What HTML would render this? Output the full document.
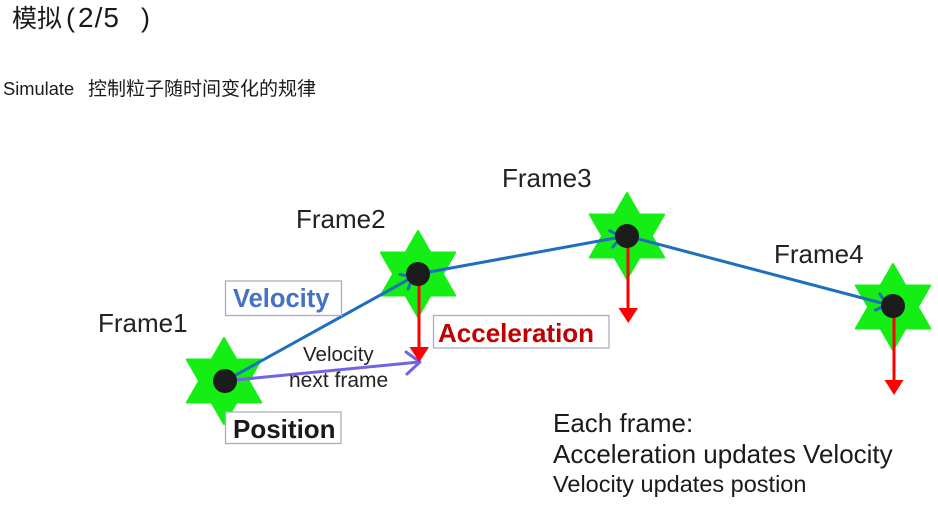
<!DOCTYPE html>
<html>
<head>
<meta charset="utf-8">
<style>
  html, body { margin: 0; padding: 0; background: #ffffff; }
  body { width: 938px; height: 511px; overflow: hidden; }
  svg { display: block; }
  .lat { font-family: "Liberation Sans", Arial, sans-serif; }
  .cjk { font-family: "Liberation Sans", "Noto Sans CJK SC", sans-serif; }
</style>
</head>
<body>
<svg width="938" height="511" viewBox="0 0 938 511" xmlns="http://www.w3.org/2000/svg">
  <rect x="0" y="0" width="938" height="511" fill="#ffffff"/>

  <!-- Title -->
  <text x="12" y="27" class="cjk" font-size="25" fill="#1a1a1a">模拟</text>
  <text x="66" y="27" class="lat" font-size="27" fill="#1a1a1a">(</text>
  <text x="78" y="27" class="lat" font-size="28" fill="#1a1a1a" letter-spacing="1">2/5</text>
  <text x="141" y="27" class="lat" font-size="27" fill="#1a1a1a">)</text>

  <!-- Subtitle -->
  <text x="3" y="95" class="lat" font-size="18.3" fill="#1a1a1a">Simulate</text>
  <text x="88" y="95" class="cjk" font-size="19" fill="#1a1a1a">控制粒子随时间变化的规律</text>

  <!-- Stars -->
  <g fill="#14ee14" stroke="#14ee14" stroke-width="2" stroke-linejoin="round">
    <polygon transform="translate(224,381)" points="0,-43 12.4,-21.5 37.2,-21.5 24.8,0 37.2,21.5 12.4,21.5 0,43 -12.4,21.5 -37.2,21.5 -24.8,0 -37.2,-21.5 -12.4,-21.5"/>
    <polygon transform="translate(418,274)" points="0,-43 12.4,-21.5 37.2,-21.5 24.8,0 37.2,21.5 12.4,21.5 0,43 -12.4,21.5 -37.2,21.5 -24.8,0 -37.2,-21.5 -12.4,-21.5"/>
    <polygon transform="translate(627,236)" points="0,-43 12.4,-21.5 37.2,-21.5 24.8,0 37.2,21.5 12.4,21.5 0,43 -12.4,21.5 -37.2,21.5 -24.8,0 -37.2,-21.5 -12.4,-21.5"/>
    <polygon transform="translate(893,307)" points="0,-43 12.4,-21.5 37.2,-21.5 24.8,0 37.2,21.5 12.4,21.5 0,43 -12.4,21.5 -37.2,21.5 -24.8,0 -37.2,-21.5 -12.4,-21.5"/>
  </g>

  <!-- Blue velocity path -->
  <g stroke="#1f6fbf" stroke-width="3" fill="none" stroke-linecap="round" stroke-linejoin="round">
    <line x1="225" y1="381" x2="413" y2="277"/>
    <polyline points="400,274.4 412.8,276.9 408.1,289"/>
    <line x1="418" y1="274" x2="621" y2="237"/>
    <polyline points="609.8,230.7 621.1,237.1 612.8,247.1"/>
    <line x1="627" y1="236" x2="887" y2="304.5"/>
    <polyline points="879.7,293.9 887.2,304.5 875.4,310.1"/>
  </g>

  <!-- Purple next-frame velocity -->
  <g stroke="#6f63e6" stroke-width="3" fill="none" stroke-linecap="round" stroke-linejoin="round">
    <line x1="225" y1="381" x2="419" y2="362"/>
    <polyline points="406,352 420,362 407,374"/>
  </g>

  <!-- Red acceleration arrows -->
  <g stroke="#ff0000" stroke-width="3">
    <line x1="419" y1="274" x2="419" y2="349"/>
    <line x1="628" y1="236" x2="628" y2="310"/>
    <line x1="894" y1="306" x2="894" y2="382"/>
  </g>
  <g fill="#ff0000">
    <polygon points="409.5,347 429,347 419.3,362"/>
    <polygon points="618.5,308 638,308 628.3,323"/>
    <polygon points="884.5,380 903.5,380 894,395"/>
  </g>

  <!-- Dots -->
  <g fill="#1c1c1c">
    <circle cx="225" cy="381" r="12"/>
    <circle cx="418" cy="274" r="12"/>
    <circle cx="627" cy="236" r="12"/>
    <circle cx="893" cy="306" r="12"/>
  </g>

  <!-- Frame labels -->
  <g class="lat" font-size="26" fill="#222222">
    <text x="98" y="332">Frame1</text>
    <text x="296" y="228">Frame2</text>
    <text x="502" y="187">Frame3</text>
    <text x="774" y="263">Frame4</text>
  </g>

  <!-- Boxes -->
  <g fill="#ffffff" stroke="#a7afbf" stroke-width="1.3">
    <rect x="225.5" y="281" width="116" height="34.5"/>
    <rect x="225.5" y="412" width="115.5" height="31.5"/>
    <rect x="433.5" y="315.5" width="175.5" height="32.5"/>
  </g>
  <text x="233" y="307" class="lat" font-size="25.5" font-weight="bold" fill="#4472c4">Velocity</text>
  <text x="233" y="438" class="lat" font-size="26" font-weight="bold" fill="#1a1a1a">Position</text>
  <text x="438" y="342" class="lat" font-size="26" font-weight="bold" fill="#c00000">Acceleration</text>

  <!-- Velocity next frame -->
  <text x="303" y="361" class="lat" font-size="20.5" fill="#222222">Velocity</text>
  <text x="289" y="387" class="lat" font-size="21" fill="#222222">next frame</text>

  <!-- Bottom text -->
  <text x="553" y="432" class="lat" font-size="26" fill="#1a1a1a">Each frame:</text>
  <text x="553" y="463" class="lat" font-size="26" fill="#1a1a1a">Acceleration updates Velocity</text>
  <text x="553" y="492" class="lat" font-size="23.5" fill="#1a1a1a">Velocity updates postion</text>
</svg>
</body>
</html>
